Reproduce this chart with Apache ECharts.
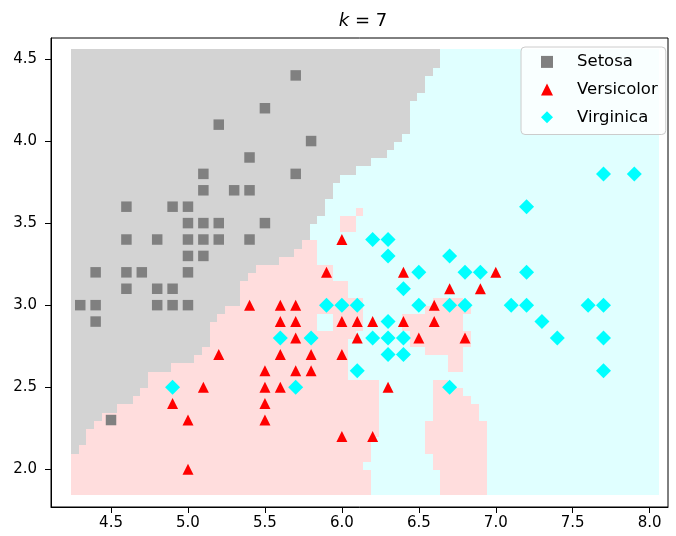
<!DOCTYPE html>
<html><head><meta charset="utf-8">
<script src="https://cdn.jsdelivr.net/npm/echarts@6/dist/echarts.min.js"></script>
<style>html,body{margin:0;padding:0;background:#fff}#c{width:676px;height:536px}</style>
</head><body><div id="c"></div>
<script>
// ---------------- data ----------------
const classNames = ['Setosa', 'Versicolor', 'Virginica'];
const setosa = [[4.3,3.0],[4.4,2.9],[4.4,3.0],[4.4,3.2],[4.5,2.3],[4.6,3.1],[4.6,3.2],[4.6,3.4],[4.6,3.6],[4.7,3.2],[4.8,3.0],[4.8,3.1],[4.8,3.4],[4.9,3.0],[4.9,3.1],[4.9,3.6],[5.0,3.0],[5.0,3.2],[5.0,3.3],[5.0,3.4],[5.0,3.5],[5.0,3.6],[5.1,3.3],[5.1,3.4],[5.1,3.5],[5.1,3.7],[5.1,3.8],[5.2,3.4],[5.2,3.5],[5.2,4.1],[5.3,3.7],[5.4,3.4],[5.4,3.7],[5.4,3.9],[5.5,3.5],[5.5,4.2],[5.7,3.8],[5.7,4.4],[5.8,4.0]];
const versicolor = [[4.9,2.4],[5.0,2.0],[5.0,2.3],[5.1,2.5],[5.2,2.7],[5.4,3.0],[5.5,2.3],[5.5,2.4],[5.5,2.5],[5.5,2.6],[5.6,2.5],[5.6,2.7],[5.6,2.9],[5.6,3.0],[5.7,2.6],[5.7,2.8],[5.7,2.9],[5.7,3.0],[5.8,2.6],[5.8,2.7],[5.9,3.2],[6.0,2.2],[6.0,2.7],[6.0,2.9],[6.0,3.4],[6.1,2.8],[6.1,2.9],[6.2,2.2],[6.2,2.9],[6.3,2.5],[6.4,2.9],[6.4,3.2],[6.5,2.8],[6.6,2.9],[6.6,3.0],[6.7,3.1],[6.8,2.8],[6.9,3.1],[7.0,3.2]];
const virginica = [[4.9,2.5],[5.6,2.8],[5.7,2.5],[5.8,2.8],[5.9,3.0],[6.0,3.0],[6.1,2.6],[6.1,3.0],[6.2,2.8],[6.2,3.4],[6.3,2.7],[6.3,2.8],[6.3,2.9],[6.3,3.3],[6.3,3.4],[6.4,2.7],[6.4,2.8],[6.4,3.1],[6.5,3.0],[6.5,3.2],[6.7,2.5],[6.7,3.0],[6.7,3.3],[6.8,3.0],[6.8,3.2],[6.9,3.2],[7.1,3.0],[7.2,3.0],[7.2,3.2],[7.2,3.6],[7.3,2.9],[7.4,2.8],[7.6,3.0],[7.7,2.6],[7.7,2.8],[7.7,3.0],[7.7,3.8],[7.9,3.8]];
const xTicks = [4.5, 5.0, 5.5, 6.0, 6.5, 7.0, 7.5, 8.0];
const yTicks = [2.0, 2.5, 3.0, 3.5, 4.0, 4.5];

// decision mesh: G = Setosa, P = Versicolor, C = Virginica
// each row: runs of cells from left; first string = top row
const meshX0 = 4.24, meshY0 = 1.845, meshStep = 0.05, meshX1 = 8.062, meshY1 = 4.56;
const meshRows = [
'G48 C28','G48 C28','G47 C29','G46 C30','G46 C30','G45 C31','G44 C32','G44 C32','G44 C32','G44 C32',
'G43 C33','G42 C34','G41 C35','G39 C37','G37 C39','G35 C41','G34 C42','G34 C42','G33 C43',
'G33 C4 P1 C38','G32 C3 P2 C39','G31 C4 P2 C39','G31 C45',
'G30 P2 C44','G29 P3 C44','G27 P5 C44','G24 P10 C42','G23 P11 C42','G22 P14 C40','G22 P14 C40',
'G22 P16 C9 P4 C25','G20 P18 C8 P6 C24','G19 P13 C2 P4 C5 P8 C25','G18 P14 C2 P4 C5 P8 C25',
'G18 P19 C7 P8 C24','G18 P18 C8 P8 C24','G17 P19 C10 P5 C25','G16 P20 C13 P2 C25','G13 P23 C13 P2 C25',
'G10 P26 C40','G10 P30 C7 P2 C27','G9 P31 C7 P4 C25','G8 P32 C7 P5 C24','G6 P34 C7 P6 C23','G4 P36 C7 P6 C23',
'G3 P37 C6 P8 C22','G2 P38 C6 P8 C22','G2 P37 C7 P8 C22','G1 P38 C7 P8 C22',
'P39 C8 P7 C22','P38 C9 P7 C22','P39 C9 P6 C22','P39 C9 P6 C22','P39 C9 P6 C22'
];

// ---------------- build ----------------
const bgColors = { G: '#d3d3d3', P: '#ffdddd', C: '#e0ffff' };
const nRows = meshRows.length;
const bgRects = [];
meshRows.forEach((row, r) => {
  const j = nRows - 1 - r;
  const y0 = meshY0 + j * meshStep;
  const y1 = (r === 0) ? meshY1 : y0 + meshStep;
  let col = 0;
  row.trim().split(/\s+/).forEach(tok => {
    const cls = tok[0], n = parseInt(tok.slice(1), 10);
    const x0 = meshX0 + col * meshStep;
    col += n;
    let x1 = meshX0 + col * meshStep;
    if (x1 > meshX1 || col >= 76) x1 = meshX1;
    bgRects.push([x0, x1, y0, y1, cls]);
  });
});

const chart = echarts.init(document.getElementById('c'), null, { renderer: 'canvas' });
const font = 'DejaVu Sans';
const axisCommon = {
  type: 'value',
  splitLine: { show: false },
  axisLine: { show: true, onZero: false, lineStyle: { color: '#000', width: 1 } },
  axisTick: { show: true, length: 6, lineStyle: { color: '#000', width: 1 } },
  axisLabel: { color: '#000', fontSize: 15, fontFamily: font, formatter: v => v.toFixed(1) }
};
chart.setOption({
  animation: false,
  backgroundColor: '#fff',
  title: {
    text: '{k|k}{n| = 7}',
    left: 358, top: 7, textAlign: 'center',
    textStyle: { fontWeight: 'normal', rich: {
      k: { fontFamily: font, fontStyle: 'italic', fontWeight: 'normal', fontSize: 18, color: '#000' },
      n: { fontFamily: font, fontWeight: 'normal', fontSize: 18, color: '#000' } } }
  },
  grid: { left: 51, top: 38, right: 8, bottom: 29, show: true, borderColor: '#000', borderWidth: 1, backgroundColor: '#fff' },
  xAxis: Object.assign({}, axisCommon, {
    min: 4.110, max: 8.119,
    axisTick: Object.assign({}, axisCommon.axisTick, { customValues: xTicks }),
    axisLabel: Object.assign({}, axisCommon.axisLabel, { customValues: xTicks, margin: 9 })
  }),
  yAxis: Object.assign({}, axisCommon, {
    min: 1.770, max: 4.628,
    axisTick: Object.assign({}, axisCommon.axisTick, { customValues: yTicks }),
    axisLabel: Object.assign({}, axisCommon.axisLabel, { customValues: yTicks, margin: 14 })
  }),
  legend: {
    orient: 'vertical', left: 521, top: 47,
    padding: [6.4, 8, 8.7, 20], itemGap: 10.7, itemWidth: 12, itemHeight: 12,
    data: classNames,
    textStyle: { fontSize: 16.5, fontFamily: font, color: '#000', lineHeight: 16, padding: [0, 0, 0, 19] },
    backgroundColor: 'rgba(255,255,255,0.8)', borderColor: '#cccccc', borderWidth: 1, borderRadius: 4
  },
  series: [
    {
      type: 'custom', name: 'mesh', z: 1, silent: true, clip: true,
      encode: { x: [0, 1], y: [2, 3] },
      data: bgRects,
      renderItem: (params, api) => {
        const x0 = api.value(0), x1 = api.value(1), y0 = api.value(2), y1 = api.value(3);
        const cls = bgRects[params.dataIndex][4];
        const p0 = api.coord([x0, y1]), p1 = api.coord([x1, y0]);
        const ax = Math.round(p0[0]), ay = Math.round(p0[1]);
        return { type: 'rect', shape: { x: ax, y: ay, width: Math.round(p1[0]) - ax, height: Math.round(p1[1]) - ay },
                 style: { fill: bgColors[cls] } };
      }
    },
    { type: 'scatter', name: classNames[0], data: setosa, symbol: 'rect', symbolSize: 10.5, itemStyle: { color: '#808080', opacity: 1 }, z: 3 },
    { type: 'scatter', name: classNames[1], data: versicolor, symbol: 'triangle', symbolSize: 11, itemStyle: { color: '#ff0000', opacity: 1 }, z: 4 },
    { type: 'scatter', name: classNames[2], data: virginica, symbol: 'diamond', symbolSize: 15, itemStyle: { color: '#00ffff', opacity: 1 }, z: 5 }
  ]
});
</script></body></html>
